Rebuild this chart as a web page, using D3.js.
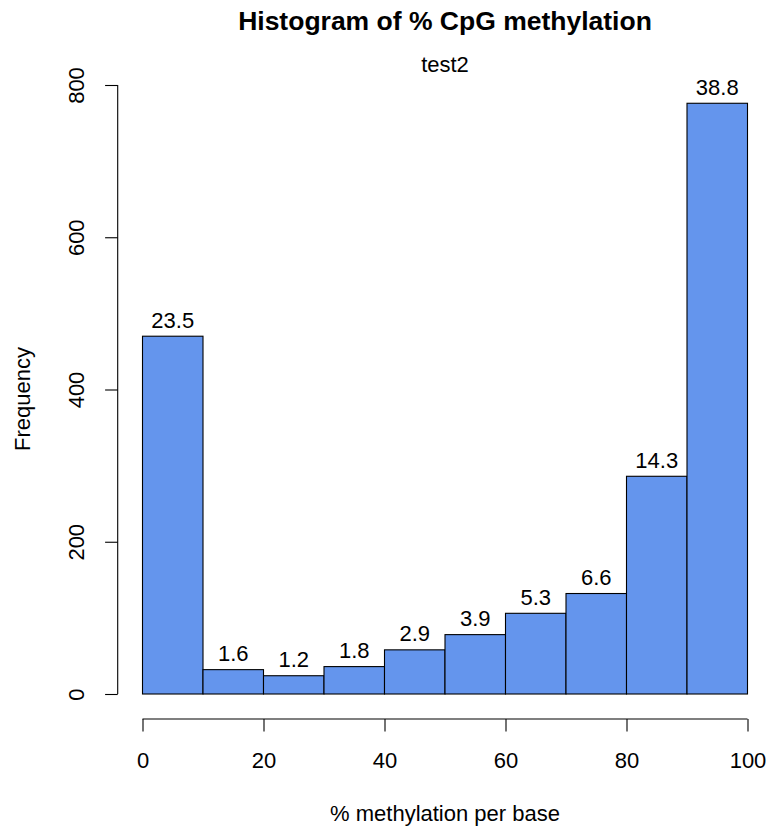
<!DOCTYPE html>
<html>
<head>
<meta charset="utf-8">
<script src="https://cdn.jsdelivr.net/npm/d3@7"></script>
<style>
  html, body { margin: 0; padding: 0; background: #ffffff; }
  svg { display: block; font-family: "Liberation Sans", Arial, Helvetica, sans-serif; }
</style>
</head>
<body>
<svg id="chart" width="768" height="829"></svg>
<script>
// Histogram bins (% methylation per base) and their counts
const binStarts = [0, 10, 20, 30, 40, 50, 60, 70, 80, 90];
const binWidth = 10;
const counts = [470, 32, 24, 36, 58, 78, 106, 132, 286, 776];
const xTicks = [0, 20, 40, 60, 80, 100];
const yTicks = [0, 200, 400, 600, 800];

const titleText = "Histogram of % CpG methylation";
const subtitleText = "test2";
const xLabel = "% methylation per base";
const yLabel = "Frequency";

const svg = d3.select("#chart");

const x = d3.scaleLinear().domain([0, 100]).range([142.5, 747.5]);
const y = d3.scaleLinear().domain([0, 800]).range([694, 85]);

const total = d3.sum(counts);
const bins = binStarts.map((s, i) => ({ x0: s, x1: s + binWidth, n: counts[i] }));

// Bars
svg.append("g")
  .selectAll("rect")
  .data(bins)
  .join("rect")
  .attr("x", d => x(d.x0))
  .attr("y", d => y(d.n))
  .attr("width", d => x(d.x1) - x(d.x0))
  .attr("height", d => y(0) - y(d.n))
  .attr("fill", "#6495ED")
  .attr("stroke", "#000")
  .attr("stroke-width", 1.1);

// Percentage labels above each bar
svg.append("g")
  .selectAll("text")
  .data(bins)
  .join("text")
  .attr("x", d => (x(d.x0) + x(d.x1)) / 2)
  .attr("y", d => y(d.n) - 8.5)
  .attr("text-anchor", "middle")
  .attr("font-size", 22)
  .attr("fill", "#000")
  .text(d => (100 * d.n / total).toFixed(1));

// X axis (drawn below the plot, R style)
const xAxis = d3.axisBottom(x).tickValues(xTicks).tickSize(12.6).tickPadding(9).tickFormat(d3.format("d"));
const gx = svg.append("g").attr("transform", "translate(0,719)").call(xAxis);
gx.select(".domain").attr("d", `M${x(0)},0H${x(100)}`).attr("stroke-width", 1.1);
gx.selectAll(".tick line").attr("stroke-width", 1.1);
gx.selectAll(".tick text").attr("font-size", 22).attr("font-family", null).attr("fill", "#000")
  .attr("dy", null).attr("y", 49);

// Y axis with rotated tick labels
const yAxis = d3.axisLeft(y).tickValues(yTicks).tickSize(12.6).tickFormat(d3.format("d"));
const gy = svg.append("g").attr("transform", "translate(117.7,0)").call(yAxis);
gy.select(".domain").attr("d", `M0,${y(0)}V${y(800)}`).attr("stroke-width", 1.1);
gy.selectAll(".tick line").attr("stroke-width", 1.1);
gy.selectAll(".tick text").remove();
gy.selectAll(".tick").append("text")
  .attr("transform", "translate(-34.2,0) rotate(-90)")
  .attr("text-anchor", "middle")
  .attr("font-size", 22)
  .attr("fill", "#000")
  .text(d => d);

// Titles and axis labels
svg.append("text")
  .attr("x", 445).attr("y", 29.5)
  .attr("text-anchor", "middle")
  .attr("font-size", 26.5)
  .attr("font-weight", "bold")
  .text(titleText);

svg.append("text")
  .attr("x", 445).attr("y", 72)
  .attr("text-anchor", "middle")
  .attr("font-size", 22)
  .text(subtitleText);

svg.append("text")
  .attr("x", 445).attr("y", 821)
  .attr("text-anchor", "middle")
  .attr("font-size", 22)
  .text(xLabel);

svg.append("text")
  .attr("transform", "translate(29.5,399) rotate(-90)")
  .attr("text-anchor", "middle")
  .attr("font-size", 22)
  .text(yLabel);
</script>
</body>
</html>
